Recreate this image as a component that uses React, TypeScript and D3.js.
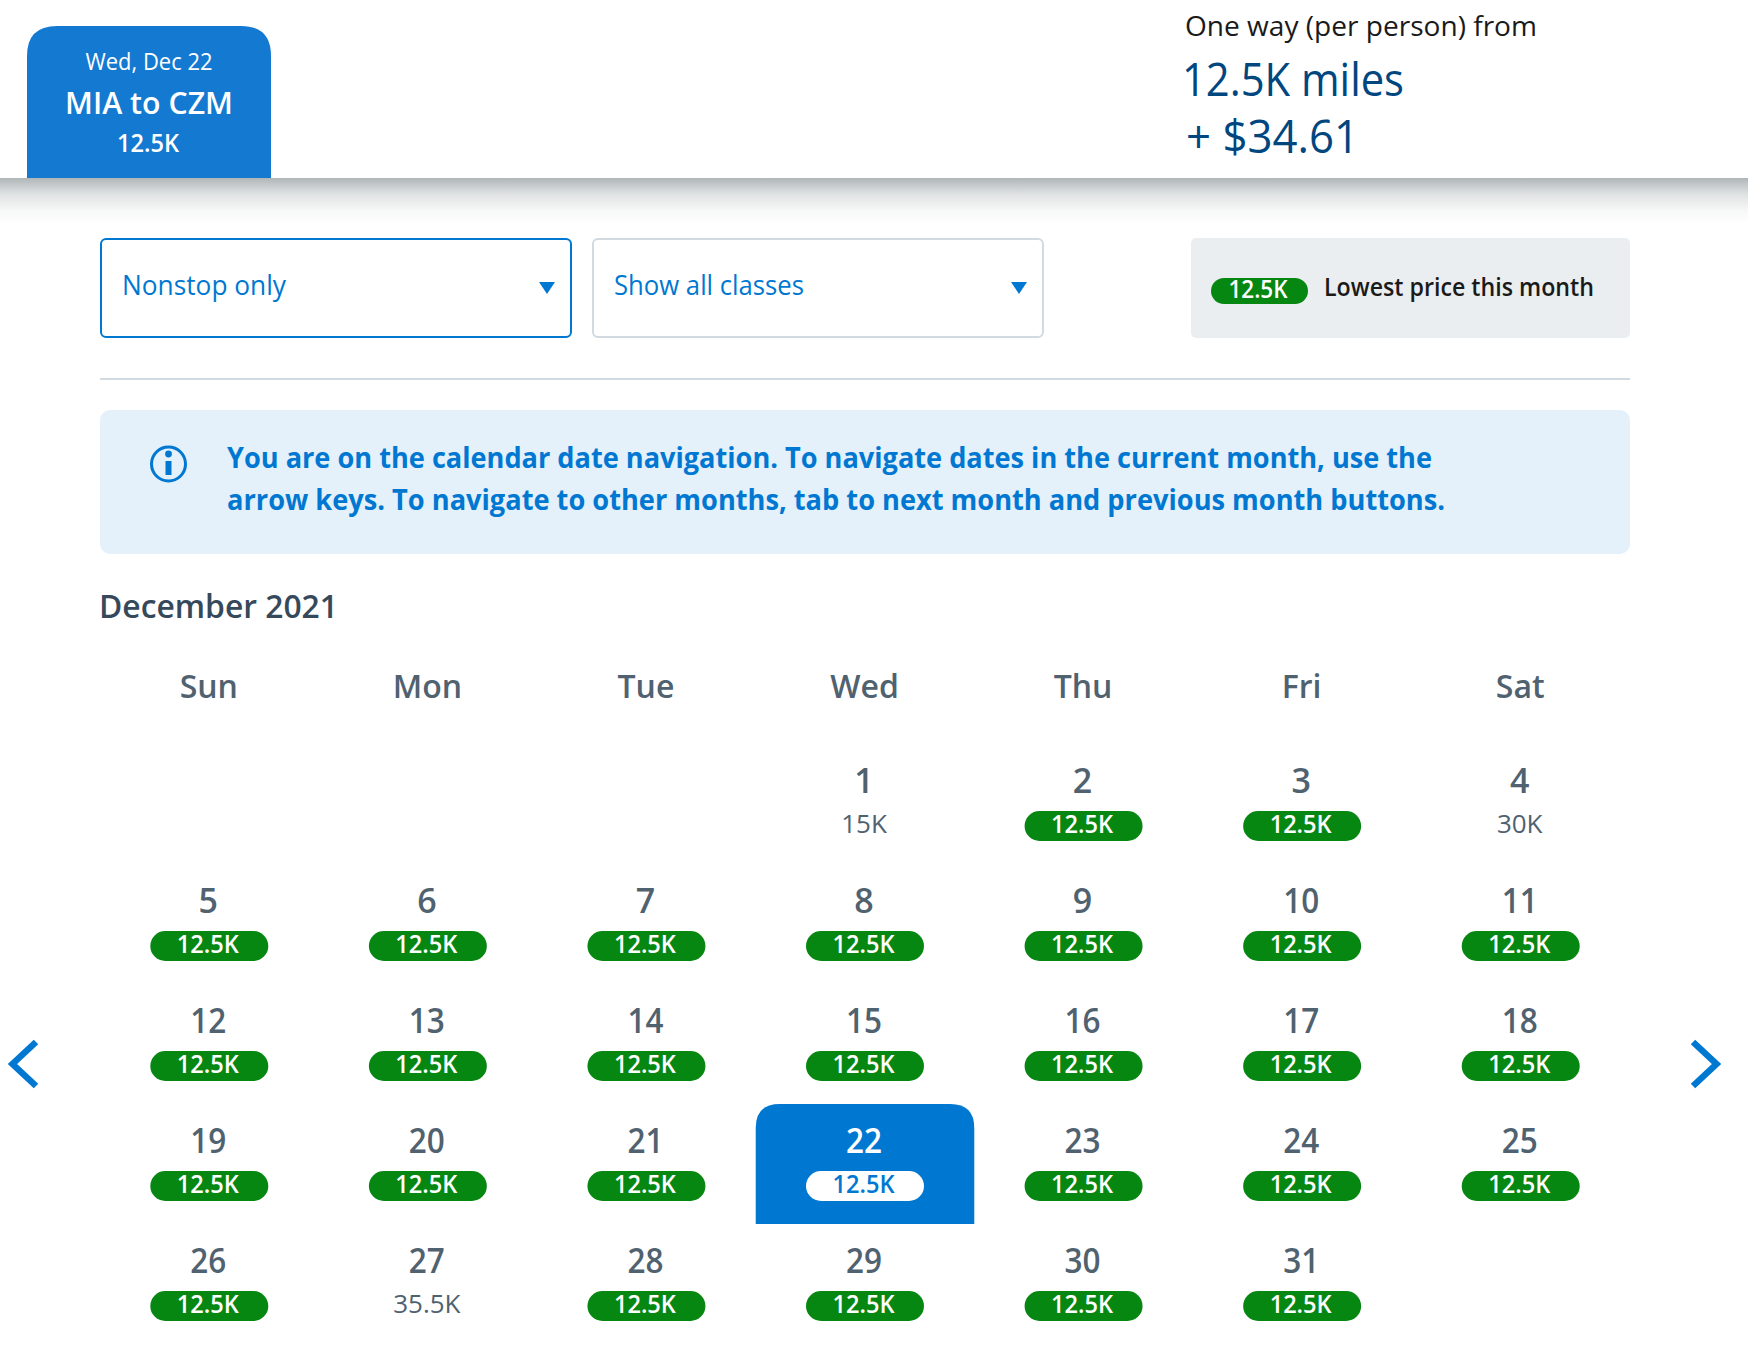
import React from "react";
import * as d3 from "d3";

const weekdays = ["Sun", "Mon", "Tue", "Wed", "Thu", "Fri", "Sat"];
const weeks = ["w1", "w2", "w3", "w4", "w5"];
const firstWeekdayIndex = 3;
const dayPrices = [
  "15K", "12.5K", "12.5K", "30K",
  "12.5K", "12.5K", "12.5K", "12.5K", "12.5K", "12.5K", "12.5K",
  "12.5K", "12.5K", "12.5K", "12.5K", "12.5K", "12.5K", "12.5K",
  "12.5K", "12.5K", "12.5K", "12.5K", "12.5K", "12.5K", "12.5K",
  "12.5K", "35.5K", "12.5K", "12.5K", "12.5K", "12.5K",
];
const lowestPrice = "12.5K";
const selectedDay = 22;
const infoLines = [
  "You are on the calendar date navigation. To navigate dates in the current month, use the",
  "arrow keys. To navigate to other months, tab to next month and previous month buttons.",
];

const W = 1748;
const H = 1352;
const FONT = "'Open Sans', sans-serif";
const BLUE = "#0078d2";
const GREEN = "#068712";
const GREY = "#50626f";

const x = d3.scaleBand<string>().domain(weekdays).range([100, 1630]);
const y = d3.scaleBand<string>().domain(weeks).range([744, 1344]);

type TProps = {
  x: number; y: number; w?: number; size: number; fill: string; weight?: number;
  anchor?: "start" | "middle"; children: React.ReactNode;
};
function T({ x, y, w, size, fill, weight = 400, anchor = "start", children }: TProps) {
  return (
    <text x={x} y={y} fontSize={size} fill={fill} fontWeight={weight} textAnchor={anchor}
      fontFamily={FONT} textLength={w} lengthAdjust={w ? "spacingAndGlyphs" : undefined}>
      {children}
    </text>
  );
}

const topRound = (x0: number, y0: number, x1: number, y1: number, r: number) =>
  `M${x0},${y1}V${y0 + r}Q${x0},${y0} ${x0 + r},${y0}H${x1 - r}Q${x1},${y0} ${x1},${y0 + r}V${y1}Z`;

const Tri = ({ cx }: { cx: number }) => (
  <path d={`M${cx - 8},282H${cx + 8}L${cx},294Z`} fill={BLUE} />
);

export default function App() {
  const cells = dayPrices.map((price, i) => {
    const slot = i + firstWeekdayIndex;
    return { day: i + 1, price, col: weekdays[slot % 7], row: weeks[Math.floor(slot / 7)] };
  });
  const bw = x.bandwidth();
  return (
    <svg width={W} height={H} viewBox={`0 0 ${W} ${H}`}
      style={{ position: "absolute", left: 0, top: 0, display: "block", background: "#fff" }}>
      <defs>
        <linearGradient id="shade" x1="0" x2="0" y1="0" y2="1">
          <stop offset="0" stopColor="#b0b6b8" />
          <stop offset="0.35" stopColor="#dfe2e3" />
          <stop offset="0.7" stopColor="#f6f7f7" />
          <stop offset="1" stopColor="#ffffff" />
        </linearGradient>
      </defs>

      <rect x={0} y={178} width={W} height={46} fill="url(#shade)" />
      <path d={topRound(27, 26, 271, 178, 30)} fill="#1479d1" />
      <T x={149} y={70} w={127} size={23} fill="#fff" anchor="middle">Wed, Dec 22</T>
      <T x={149} y={114} w={168} size={30} fill="#fff" weight={600} anchor="middle">MIA to CZM</T>
      <T x={148} y={152} w={62} size={26} fill="#fff" weight={600} anchor="middle">{lowestPrice}</T>

      <T x={1185} y={36} w={352} size={28} fill="#1a1a1a">One way (per person) from</T>
      <T x={1182} y={96} w={222} size={46} fill="#00467f">{lowestPrice} miles</T>
      <T x={1186} y={153} w={173} size={46} fill="#00467f">+ $34.61</T>

      <rect x={101} y={239} width={470} height={98} rx={5} fill="#fff" stroke={BLUE} strokeWidth={2} />
      <T x={122} y={294.5} w={164} size={27} fill={BLUE}>Nonstop only</T>
      <Tri cx={547} />
      <rect x={593} y={239} width={450} height={98} rx={5} fill="#fff" stroke="#d0dae0" strokeWidth={2} />
      <T x={614} y={294.5} w={190} size={27} fill={BLUE}>Show all classes</T>
      <Tri cx={1019} />

      <rect x={1191} y={238} width={439} height={100} rx={5} fill="#ebeef0" />
      <rect x={1211} y={278} width={97} height={26} rx={13} fill={GREEN} />
      <T x={1258} y={298} w={59} size={25} fill="#fff" weight={600} anchor="middle">{lowestPrice}</T>
      <T x={1324} y={296} w={270} size={25} fill="#1a1a1a" weight={600}>Lowest price this month</T>

      <rect x={100} y={378} width={1530} height={2} fill="#d0dae0" />

      <rect x={100} y={410} width={1530} height={144} rx={10} fill="#e4f0fa" />
      <ellipse cx={168.5} cy={464} rx={17} ry={17} fill="none" stroke={BLUE} strokeWidth={3} />
      <rect x={165.5} y={461} width={6} height={14} fill={BLUE} />
      <circle cx={168.5} cy={454} r={3.4} fill={BLUE} />
      <T x={227} y={468} w={1205} size={28} fill={BLUE} weight={700}>{infoLines[0]}</T>
      <T x={227} y={510} w={1218} size={28} fill={BLUE} weight={700}>{infoLines[1]}</T>

      <T x={99} y={618} w={239} size={33} fill="#36495a" weight={600}>December 2021</T>

      {weekdays.map((d) => (
        <T key={d} x={x(d)! + bw / 2 - 0.5} y={698} size={32} fill={GREY} weight={600} anchor="middle">{d}</T>
      ))}

      {cells.map((c) => {
        const cx = x(c.col)! + bw / 2;
        const top = y(c.row)!;
        const selected = c.day === selectedDay;
        const lowest = c.price === lowestPrice;
        const twoDigits = c.day >= 10;
        return (
          <g key={c.day}>
            {selected && (
              <path d={topRound(x(c.col)!, top, x(c.col)! + bw, top + y.bandwidth(), 24)} fill={BLUE} />
            )}
            <T x={cx - 1} y={top + 49} w={twoDigits ? 36 : undefined} size={34}
              fill={selected ? "#fff" : GREY} weight={600} anchor="middle">{c.day}</T>
            {lowest && (
              <rect x={cx - 59} y={top + 67} width={118} height={30} rx={15} fill={selected ? "#fff" : GREEN} />
            )}
            <T x={lowest ? cx - 1.5 : cx - 1} y={top + 89} w={lowest ? 62 : undefined} size={26}
              fill={lowest ? (selected ? BLUE : "#fff") : GREY} weight={lowest ? 600 : 400} anchor="middle">{c.price}</T>
          </g>
        );
      })}

      <path d="M36,1042L12.5,1064L36,1086" fill="none" stroke={BLUE} strokeWidth={6.5} />
      <path d="M1693,1042L1716.5,1064L1693,1086" fill="none" stroke={BLUE} strokeWidth={6.5} />
    </svg>
  );
}
